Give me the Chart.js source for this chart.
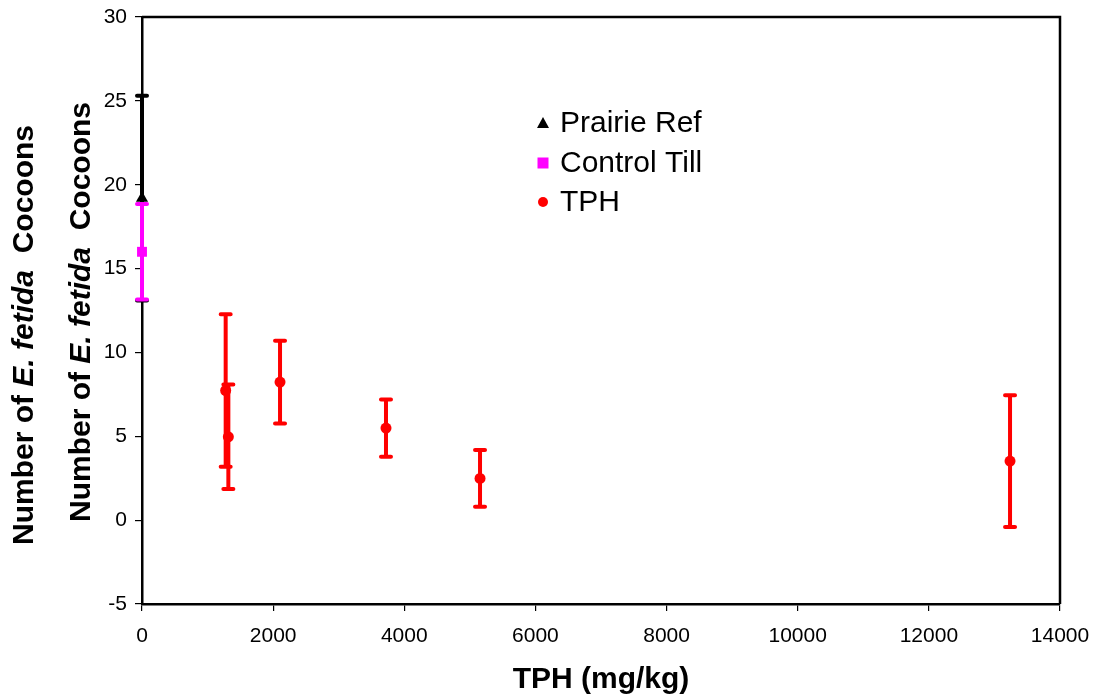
<!DOCTYPE html>
<html>
<head>
<meta charset="utf-8">
<script src="https://cdn.jsdelivr.net/npm/chart.js@4.4.0/dist/chart.umd.min.js"></script>
<style>
  html, body { margin: 0; padding: 0; background: #fff; }
  #wrap { width: 1093px; height: 699px; position: relative; }
</style>
</head>
<body>
<div id="wrap"><canvas id="cocoons"></canvas></div>
<script>
// values
const prairieX = [0];
const prairieY = [19.2];
const prairieErr = [6.1];

const controlX = [0];
const controlY = [16.0];
const controlErr = [2.85];

const tphX = [1276, 1317, 2105, 3721, 5155, 13238];
const tphY = [7.73, 4.97, 8.23, 5.49, 2.49, 3.52];
const tphErr = [4.55, 3.12, 2.47, 1.71, 1.69, 3.93];

const seriesNames = ["Prairie Ref", "Control Till", "TPH"];
const xTitle = "TPH (mg/kg)";
const yTitleParts = [["Number of ", "bold"], ["E. fetida", "italic bold"], ["  Cocoons", "bold"]];

const FONT = "Arial, 'Liberation Sans', sans-serif";

const toPoints = (xs, ys) => xs.map((x, i) => ({ x: x, y: ys[i] }));

// error bars, drawn under the markers
const errorBars = {
  id: "errorBars",
  beforeDatasetsDraw(chart) {
    const ctx = chart.ctx;
    const yScale = chart.scales.y;
    chart.data.datasets.forEach((ds, i) => {
      const meta = chart.getDatasetMeta(i);
      ctx.save();
      ctx.strokeStyle = ds.borderColor;
      ctx.lineWidth = 4;
      ctx.lineCap = "round";
      meta.data.forEach((pt, j) => {
        const v = ds.data[j].y;
        const e = ds.errors[j];
        const top = yScale.getPixelForValue(v + e);
        const bot = yScale.getPixelForValue(v - e);
        ctx.beginPath();
        ctx.moveTo(pt.x, top);
        ctx.lineTo(pt.x, bot);
        ctx.moveTo(pt.x - 5, top);
        ctx.lineTo(pt.x + 5, top);
        ctx.moveTo(pt.x - 5, bot);
        ctx.lineTo(pt.x + 5, bot);
        ctx.stroke();
      });
      ctx.restore();
    });
  }
};

// frame, axis titles and the legend box
const decorations = {
  id: "decorations",
  afterDraw(chart) {
    const ctx = chart.ctx;
    const a = chart.chartArea;
    ctx.save();
    ctx.strokeStyle = "#000";
    ctx.lineWidth = 2.5;
    ctx.beginPath();
    ctx.moveTo(a.left, a.top);
    ctx.lineTo(a.right, a.top);
    ctx.lineTo(a.right, a.bottom);
    ctx.stroke();

    // x title
    ctx.fillStyle = "#000";
    ctx.font = "bold 30px " + FONT;
    ctx.textAlign = "center";
    ctx.textBaseline = "alphabetic";
    ctx.fillText(xTitle, (a.left + a.right) / 2, 688);

    // y title, twice like the original
    const drawYTitle = (baseX, centerY) => {
      ctx.save();
      ctx.translate(baseX, centerY);
      ctx.rotate(-Math.PI / 2);
      let total = 0;
      yTitleParts.forEach(p => {
        ctx.font = p[1] + " 30px " + FONT;
        total += ctx.measureText(p[0]).width;
      });
      let x = -total / 2;
      ctx.textAlign = "left";
      yTitleParts.forEach(p => {
        ctx.font = p[1] + " 30px " + FONT;
        ctx.fillText(p[0], x, 0);
        x += ctx.measureText(p[0]).width;
      });
      ctx.restore();
    };
    drawYTitle(33, 335);
    drawYTitle(90, 312);

    // legend
    const rows = [123, 163, 202];
    chart.data.datasets.forEach((ds, i) => {
      const cy = rows[i];
      const cx = 543;
      ctx.fillStyle = ds.backgroundColor;
      ctx.beginPath();
      if (ds.pointStyle === "triangle") {
        ctx.moveTo(cx, cy - 6);
        ctx.lineTo(cx + 6, cy + 5);
        ctx.lineTo(cx - 6, cy + 5);
        ctx.closePath();
      } else if (ds.pointStyle === "rect") {
        ctx.rect(cx - 5.5, cy - 5.5, 11, 11);
      } else {
        ctx.arc(cx, cy, 5, 0, Math.PI * 2);
      }
      ctx.fill();
      ctx.fillStyle = "#000";
      ctx.font = "30px " + FONT;
      ctx.textAlign = "left";
      ctx.textBaseline = "middle";
      ctx.fillText(ds.label, 560, cy + 1);
    });
    ctx.restore();
  }
};

const chart = new Chart("cocoons", {
  type: "scatter",
  data: {
    datasets: [
      {
        label: seriesNames[0],
        data: toPoints(prairieX, prairieY),
        errors: prairieErr,
        pointStyle: "triangle",
        pointRadius: 7,
        backgroundColor: "#000000",
        borderColor: "#000000",
        borderWidth: 0,
        clip: false
      },
      {
        label: seriesNames[1],
        data: toPoints(controlX, controlY),
        errors: controlErr,
        pointStyle: "rect",
        pointRadius: 7,
        backgroundColor: "#ff00ff",
        borderColor: "#ff00ff",
        borderWidth: 0,
        clip: false
      },
      {
        label: seriesNames[2],
        data: toPoints(tphX, tphY),
        errors: tphErr,
        pointStyle: "circle",
        pointRadius: 5.5,
        backgroundColor: "#ff0000",
        borderColor: "#ff0000",
        borderWidth: 0,
        clip: false
      }
    ]
  },
  options: {
    responsive: true,
    maintainAspectRatio: false,
    animation: false,
    layout: { padding: { top: 17, right: 33, left: 0, bottom: 0 } },
    plugins: {
      legend: { display: false },
      tooltip: { enabled: false }
    },
    scales: {
      x: {
        type: "linear",
        min: 0,
        max: 14000,
        afterFit: s => { s.height = 95; s.paddingLeft = 0; s.paddingRight = 0; },
        border: { display: true, color: "#000", width: 2.5 },
        grid: { drawOnChartArea: false, drawTicks: true, tickLength: 7, color: "#000", lineWidth: 1.2 },
        ticks: {
          stepSize: 2000,
          padding: 13,
          color: "#000",
          font: { family: FONT, size: 21 },
          maxRotation: 0,
          callback: v => String(v)
        }
      },
      y: {
        type: "linear",
        min: -5,
        max: 30,
        afterFit: s => { s.width = 142; s.paddingTop = 0; s.paddingBottom = 0; },
        border: { display: true, color: "#000", width: 2.5 },
        grid: { drawOnChartArea: false, drawTicks: true, tickLength: 7, color: "#000", lineWidth: 1.2 },
        ticks: {
          stepSize: 5,
          padding: 8,
          color: "#000",
          font: { family: FONT, size: 21 },
          callback: v => String(v)
        }
      }
    }
  },
  plugins: [errorBars, decorations]
});
</script>
</body>
</html>
